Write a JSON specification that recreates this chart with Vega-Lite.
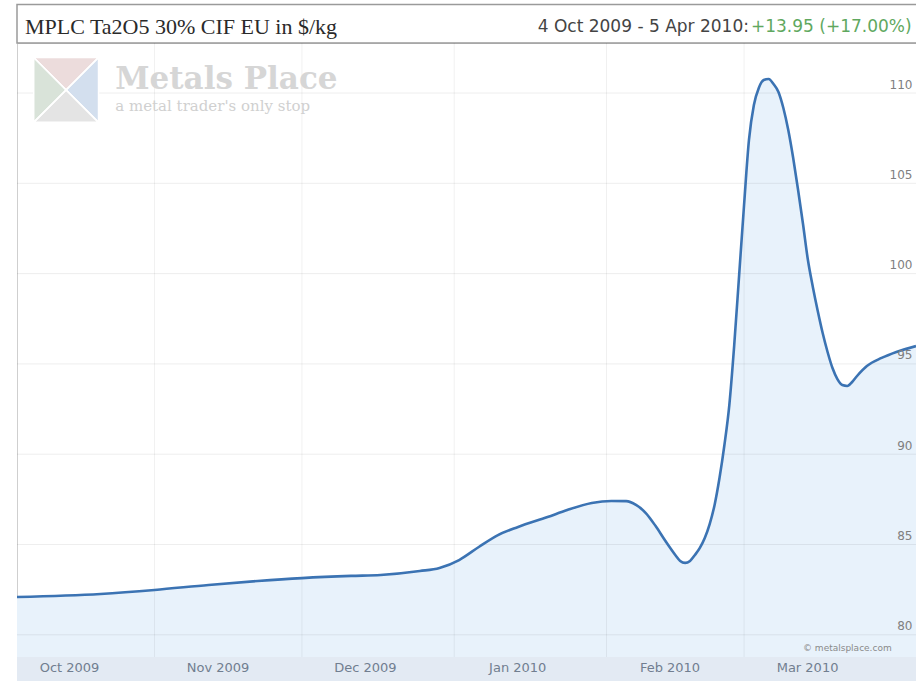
{
  "$schema": "https://vega.github.io/schema/vega-lite/v6.json",
  "width": 899,
  "height": 614,
  "autosize": {"type": "none"},
  "padding": {"left": 17, "top": 43, "right": 0, "bottom": 24},
  "background": "white",
  "config": {"view": {"stroke": "#cfcfcf"}},
  "datasets": {
    "prices": [
      {"date": "2009-10-04", "price": 82.09},
      {"date": "2009-10-21", "price": 82.26},
      {"date": "2009-11-01", "price": 82.48},
      {"date": "2009-11-12", "price": 82.76},
      {"date": "2009-11-22", "price": 82.98},
      {"date": "2009-12-01", "price": 83.14},
      {"date": "2009-12-11", "price": 83.26},
      {"date": "2009-12-17", "price": 83.31},
      {"date": "2009-12-25", "price": 83.53},
      {"date": "2009-12-29", "price": 83.70},
      {"date": "2010-01-02", "price": 84.14},
      {"date": "2010-01-06", "price": 84.86},
      {"date": "2010-01-10", "price": 85.53},
      {"date": "2010-01-14", "price": 85.97},
      {"date": "2010-01-20", "price": 86.52},
      {"date": "2010-01-24", "price": 86.91},
      {"date": "2010-01-29", "price": 87.30},
      {"date": "2010-02-02", "price": 87.41},
      {"date": "2010-02-05", "price": 87.40},
      {"date": "2010-02-07", "price": 87.19},
      {"date": "2010-02-09", "price": 86.74},
      {"date": "2010-02-11", "price": 86.02},
      {"date": "2010-02-13", "price": 85.19},
      {"date": "2010-02-15", "price": 84.42},
      {"date": "2010-02-16", "price": 84.09},
      {"date": "2010-02-17", "price": 83.98},
      {"date": "2010-02-18", "price": 84.09},
      {"date": "2010-02-19", "price": 84.42},
      {"date": "2010-02-20", "price": 84.81},
      {"date": "2010-02-21", "price": 85.36},
      {"date": "2010-02-22", "price": 86.13},
      {"date": "2010-02-23", "price": 87.19},
      {"date": "2010-02-24", "price": 88.68},
      {"date": "2010-02-25", "price": 90.51},
      {"date": "2010-02-26", "price": 92.72},
      {"date": "2010-02-27", "price": 96.05},
      {"date": "2010-02-28", "price": 99.92},
      {"date": "2010-03-01", "price": 103.80},
      {"date": "2010-03-02", "price": 107.40},
      {"date": "2010-03-03", "price": 109.34},
      {"date": "2010-03-04", "price": 110.28},
      {"date": "2010-03-05", "price": 110.72},
      {"date": "2010-03-06", "price": 110.78},
      {"date": "2010-03-07", "price": 110.50},
      {"date": "2010-03-08", "price": 110.06},
      {"date": "2010-03-09", "price": 109.17},
      {"date": "2010-03-10", "price": 107.95},
      {"date": "2010-03-11", "price": 106.40},
      {"date": "2010-03-12", "price": 104.63},
      {"date": "2010-03-13", "price": 102.75},
      {"date": "2010-03-14", "price": 100.75},
      {"date": "2010-03-15", "price": 99.26},
      {"date": "2010-03-16", "price": 97.93},
      {"date": "2010-03-17", "price": 96.71},
      {"date": "2010-03-18", "price": 95.66},
      {"date": "2010-03-19", "price": 94.77},
      {"date": "2010-03-20", "price": 94.16},
      {"date": "2010-03-21", "price": 93.83},
      {"date": "2010-03-22", "price": 93.78},
      {"date": "2010-03-23", "price": 94.00},
      {"date": "2010-03-24", "price": 94.33},
      {"date": "2010-03-26", "price": 94.88},
      {"date": "2010-03-29", "price": 95.33},
      {"date": "2010-04-01", "price": 95.66},
      {"date": "2010-04-05", "price": 95.99}
    ],
    "monthStarts": [
      {"date": "2009-11-01"},
      {"date": "2009-12-01"},
      {"date": "2010-01-01"},
      {"date": "2010-02-01"},
      {"date": "2010-03-01"}
    ],
    "levels": [
      {"level": 80}, {"level": 85}, {"level": 90}, {"level": 95},
      {"level": 100}, {"level": 105}, {"level": 110}
    ]
  },
  "layer": [
    {
      "data": {"values": [{"band": "header"}]},
      "mark": {"type": "rect", "fill": null, "stroke": "#9a9a9a", "strokeWidth": 1.5},
      "encoding": {
        "x": {"datum": {"year": 2009, "month": 10, "date": 4, "utc": true}},
        "x2": {"datum": {"year": 2010, "month": 4, "date": 6, "utc": true}},
        "y": {"datum": 114.9},
        "y2": {"datum": 112.77}
      }
    },
    {
      "data": {"values": [{"band": "axis"}]},
      "mark": {"type": "rect", "fill": "#e3eaf3"},
      "encoding": {
        "x": {"datum": {"year": 2009, "month": 10, "date": 4, "utc": true}},
        "x2": {"datum": {"year": 2010, "month": 4, "date": 6, "utc": true}},
        "y": {"datum": 78.77},
        "y2": {"datum": 77.3}
      }
    },
    {
      "data": {"name": "prices"},
      "mark": {"type": "area", "interpolate": "monotone", "fill": "#e8f2fb", "clip": true},
      "encoding": {
        "x": {
          "field": "date",
          "type": "temporal",
          "scale": {
            "type": "utc",
            "domain": [
              {"year": 2009, "month": 10, "date": 4, "utc": true},
              {"year": 2010, "month": 4, "date": 5, "utc": true}
            ]
          },
          "axis": {
            "title": null,
            "zindex": 1,
            "values": [
              {"year": 2009, "month": 10, "date": 4, "utc": true},
              {"year": 2009, "month": 11, "date": 1, "utc": true},
              {"year": 2009, "month": 12, "date": 1, "utc": true},
              {"year": 2010, "month": 1, "date": 1, "utc": true},
              {"year": 2010, "month": 2, "date": 1, "utc": true},
              {"year": 2010, "month": 3, "date": 1, "utc": true}
            ],
            "format": "%b %Y",
            "ticks": false,
            "domain": false,
            "grid": false,
            "labelPadding": 4,
            "labelBaseline": "top",
            "labelAlign": "center",
            "labelOffset": {"condition": {"test": "utcmonth(datum.value) == 9", "value": 52}, "value": 63},
            "labelFont": "DejaVu Sans",
            "labelFontSize": 13,
            "labelColor": "#717e90"
          }
        },
        "y": {
          "field": "price",
          "type": "quantitative",
          "scale": {"domain": [78.77, 112.77], "zero": false, "nice": false},
          "axis": {
            "orient": "right",
            "title": null,
            "zindex": 1,
            "values": [80, 85, 90, 95, 100, 105, 110],
            "ticks": false,
            "domain": false,
            "grid": false,
            "labelAlign": "right",
            "labelPadding": -4,
            "labelBaseline": "middle",
            "labelOffset": -9,
            "labelFont": "DejaVu Sans",
            "labelFontSize": 12,
            "labelColor": "#808080"
          }
        }
      }
    },
    {
      "data": {"name": "monthStarts"},
      "mark": {"type": "rule", "color": "#000000", "opacity": 0.06, "strokeWidth": 1},
      "encoding": {
        "x": {"field": "date", "type": "temporal"}
      }
    },
    {
      "data": {"name": "levels"},
      "mark": {"type": "rule", "color": "#000000", "opacity": 0.07, "strokeWidth": 1},
      "encoding": {
        "y": {"field": "level", "type": "quantitative"}
      }
    },
    {
      "data": {"name": "prices"},
      "mark": {"type": "line", "interpolate": "monotone", "color": "#3b73b3", "strokeWidth": 2.6, "clip": true},
      "encoding": {
        "x": {"field": "date", "type": "temporal"},
        "y": {"field": "price", "type": "quantitative"}
      }
    },
    {
      "data": {"values": [{"label": "MPLC Ta2O5 30% CIF EU in $/kg"}]},
      "mark": {"type": "text", "align": "left", "baseline": "middle", "font": "Liberation Serif", "fontSize": 22, "color": "#2a2a2a", "dx": 3},
      "encoding": {
        "x": {"datum": {"year": 2009, "month": 10, "date": 5, "utc": true}},
        "y": {"datum": 113.66},
        "text": {"field": "label"}
      }
    },
    {
      "data": {"values": [{"label": "4 Oct 2009 - 5 Apr 2010: "}]},
      "mark": {"type": "text", "align": "right", "baseline": "middle", "font": "DejaVu Sans", "fontSize": 17, "color": "#444444"},
      "encoding": {
        "x": {"datum": {"year": 2010, "month": 3, "date": 2, "utc": true}},
        "y": {"datum": 113.66},
        "text": {"field": "label"}
      }
    },
    {
      "data": {"values": [{"label": "+13.95 (+17.00%)"}]},
      "mark": {"type": "text", "align": "left", "baseline": "middle", "font": "DejaVu Sans", "fontSize": 17, "color": "#5fa85f", "dx": 2},
      "encoding": {
        "x": {"datum": {"year": 2010, "month": 3, "date": 2, "utc": true}},
        "y": {"datum": 113.66},
        "text": {"field": "label"}
      }
    },
    {
      "data": {"values": [{"part": "top"}, {"part": "left"}, {"part": "right"}, {"part": "bottom"}, {"part": "cross"}]},
      "mark": {"type": "point", "filled": true, "opacity": 1, "stroke": "white", "strokeWidth": 1.5},
      "encoding": {
        "x": {"datum": {"year": 2009, "month": 10, "date": 14, "utc": true}},
        "y": {"datum": 110.17},
        "size": {"value": 4200},
        "shape": {
          "field": "part",
          "type": "nominal",
          "scale": {
            "domain": ["top", "left", "right", "bottom", "cross"],
            "range": [
              "M-1,-1L1,-1L0,0Z",
              "M-1,-1L0,0L-1,1Z",
              "M1,-1L0,0L1,1Z",
              "M-1,1L0,0L1,1Z",
              "M-1,-1L1,1M1,-1L-1,1"
            ]
          },
          "legend": null
        },
        "fill": {
          "field": "part",
          "type": "nominal",
          "scale": {
            "domain": ["top", "left", "right", "bottom", "cross"],
            "range": ["#ecdcdc", "#d9e3d9", "#d3dfee", "#e4e4e4", "#ffffff"]
          },
          "legend": null
        }
      }
    },
    {
      "data": {"values": [{"label": "Metals Place"}]},
      "mark": {"type": "text", "align": "left", "baseline": "middle", "font": "DejaVu Serif", "fontSize": 31, "fontWeight": "bold", "color": "#d6d6d6"},
      "encoding": {
        "x": {"datum": {"year": 2009, "month": 10, "date": 24, "utc": true}},
        "y": {"datum": 110.72},
        "text": {"field": "label"}
      }
    },
    {
      "data": {"values": [{"label": "a metal trader's only stop"}]},
      "mark": {"type": "text", "align": "left", "baseline": "middle", "font": "DejaVu Serif", "fontSize": 15, "color": "#d0d0d0"},
      "encoding": {
        "x": {"datum": {"year": 2009, "month": 10, "date": 24, "utc": true}},
        "y": {"datum": 109.28},
        "text": {"field": "label"}
      }
    },
    {
      "data": {"values": [{"label": "© metalsplace.com"}]},
      "mark": {"type": "text", "align": "left", "baseline": "middle", "font": "DejaVu Sans", "fontSize": 9, "color": "#8a8a8a"},
      "encoding": {
        "x": {"datum": {"year": 2010, "month": 3, "date": 13, "utc": true}},
        "y": {"datum": 79.27},
        "text": {"field": "label"}
      }
    }
  ]
}
